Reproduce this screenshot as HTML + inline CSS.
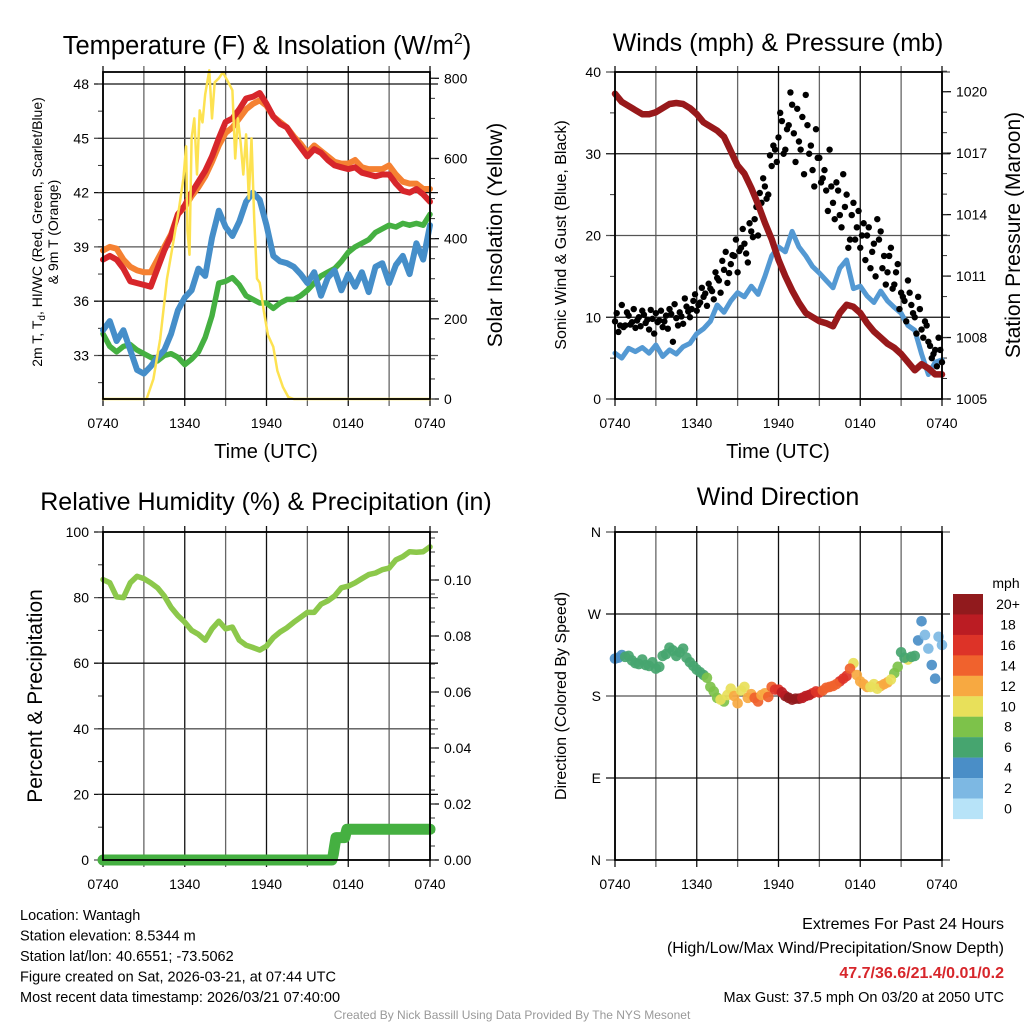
<!DOCTYPE html>
<html><head><meta charset="utf-8"><style>
html,body{margin:0;padding:0;background:#fff;}
svg{display:block;font-family:"Liberation Sans",Arial,sans-serif;}
</style></head><body>
<svg id="fig" width="1024" height="1024" viewBox="0 0 1024 1024" xmlns="http://www.w3.org/2000/svg">
<g id="layer"></g>
</svg>
<script>
// ---------- DATA ----------
const tempRed=[38.3,38.5,38.3,37.8,37.1,37.0,36.9,36.8,37.8,38.8,39.6,40.8,41.3,42.0,42.6,43.2,44.0,45.0,45.9,46.1,46.6,47.2,47.3,47.5,46.9,46.2,45.8,45.6,45.0,44.5,44.0,44.4,44.2,43.8,43.5,43.4,43.3,43.4,43.1,43.0,42.9,43.0,43.0,42.5,42.1,42.0,42.2,41.9,41.5];
const temp9m=[38.8,39.0,38.9,38.3,37.9,37.7,37.6,37.6,38.3,39.0,39.7,40.8,41.2,41.8,42.3,42.9,43.7,44.6,45.3,45.6,46.1,46.6,46.9,47.1,46.8,46.2,45.9,45.6,45.1,44.7,44.2,44.6,44.3,44.0,43.7,43.6,43.6,43.8,43.4,43.3,43.3,43.3,43.5,43.0,42.6,42.5,42.5,42.2,42.2];
const dewGreen=[34.2,33.5,33.2,33.5,33.6,33.3,33.1,32.9,32.7,33.0,33.1,32.9,32.5,32.8,33.2,34.0,35.2,37.0,37.1,37.3,36.9,36.3,36.1,35.9,35.9,35.6,35.9,36.1,36.1,36.3,36.6,37.0,37.4,37.6,37.8,38.2,38.7,39.0,39.2,39.4,39.8,40.0,40.2,40.1,40.3,40.2,40.3,40.2,40.8];
const chillBlue=[34.4,34.9,33.8,34.4,33.3,32.2,32.0,32.4,32.9,33.3,34.2,35.5,36.2,36.6,37.8,37.4,39.5,41.0,40.1,39.6,40.4,41.5,42.0,41.6,40.2,38.5,38.2,38.1,37.9,37.5,37.0,37.6,36.3,37.3,37.7,36.6,37.5,36.8,37.6,36.5,37.9,38.1,37.0,38.0,38.5,37.5,39.2,38.3,40.2];
const solarHours=[0,3.2,3.7,4.2,4.7,5.2,5.6,5.9,6.1,6.2,6.35,6.5,6.7,6.9,7.1,7.3,7.5,7.8,8.0,8.2,8.5,8.8,9.2,9.5,9.7,9.9,10.1,10.3,10.5,10.7,10.9,11.1,11.3,11.5,11.8,12.1,12.5,12.8,13.2,13.6,14,24];
const solarVals=[0,0,50,150,300,400,480,550,630,420,360,650,700,560,720,690,760,820,700,790,800,815,790,770,600,700,640,560,660,500,650,450,300,290,220,160,130,70,30,5,0,0];
const windSpd=[5.6,5.0,6.2,5.8,6.3,5.6,6.6,5.2,6.0,5.5,6.4,6.8,8.0,8.6,9.5,11.5,10.6,12.0,13.0,12.5,13.8,12.8,15.0,17.5,18.6,18.0,20.5,18.6,17.5,16.2,15.4,14.5,13.6,16.0,17.0,13.5,13.8,12.6,11.8,13.2,12.0,11.2,10.5,9.0,8.4,5.5,3.0,4.5,4.8];
const gustA=[9.5,8.2,11.5,9.0,10.2,9.4,8.7,10.0,10.8,9.3,8.5,9.8,10.5,9.6,8.8,10.2,11.0,7.0,9.9,10.6,9.2,11.3,10.0,12.0,10.8,11.8,12.5,11.4,13.5,12.2,14.8,13.0,15.8,14.2,16.5,17.5,15.5,18.5,19.0,16.7,20.5,22.0,20.0,24.0,26.0,25.0,28.5,30.5,32.0,34.0,30.5,33.5,36.0,29.0,31.5,34.5,37.2,30.0,28.0,33.0,29.5,27.0,25.5,30.5,24.0,26.5,22.5,27.5,25.0,19.5,24.0,21.0,18.5,21.5,20.0,16.0,19.0,22.0,20.5,17.5,15.5,18.5,14.0,16.5,13.0,12.0,14.5,11.5,10.0,12.5,8.5,9.5,7.0,5.0,6.0,7.5,4.5];
const gustB=[10.5,9.0,8.8,10.6,9.1,11.0,9.6,8.9,10.3,9.7,10.9,8.0,9.4,10.8,9.5,8.6,10.4,11.6,9.0,10.1,12.3,10.7,11.0,12.8,11.5,13.6,12.9,14.1,13.2,15.5,14.5,16.9,18.0,15.4,17.6,19.5,18.1,20.8,17.8,21.5,19.8,23.5,25.2,27.0,24.5,29.8,31.0,29.0,35.0,30.0,33.0,37.5,32.5,35.5,30.5,27.5,33.5,31.0,26.0,29.5,26.5,28.0,23.0,26.0,22.0,25.5,21.0,23.5,18.5,22.5,19.5,23.0,20.0,17.0,21.0,18.0,15.0,19.5,16.0,14.0,17.5,13.5,15.5,11.0,12.5,9.5,13.0,10.5,8.0,11.0,7.5,9.0,6.5,5.5,4.0,6.0];
const pressure=[1019.9,1019.5,1019.3,1019.1,1018.9,1018.9,1019.0,1019.2,1019.4,1019.45,1019.4,1019.2,1018.9,1018.5,1018.3,1018.1,1017.8,1017.1,1016.4,1016.0,1015.3,1014.5,1013.6,1012.8,1011.8,1011.0,1010.3,1009.7,1009.2,1009.0,1008.8,1008.7,1008.55,1009.2,1009.6,1009.5,1009.2,1008.7,1008.3,1008.0,1007.7,1007.5,1007.2,1006.8,1006.4,1006.7,1006.5,1006.2,1006.2];
const rh=[85.5,84.5,80.2,80.0,84.5,86.5,85.8,84.5,83.0,80.5,77.0,74.5,72.5,70.0,68.8,67.0,70.5,72.8,70.5,71.0,67.0,65.5,64.8,64.0,65.2,67.8,69.5,70.8,72.5,74.0,75.5,75.5,78.0,79.0,80.5,83.0,83.5,84.5,85.8,87.0,87.5,88.5,89.0,91.5,92.5,94.0,93.8,94.0,95.5];
const precipHours=[0,16.8,16.9,17.0,17.1,17.75,17.9,24];
const precipVals=[0,0,0.002,0.005,0.008,0.008,0.011,0.011];
const windDir=[221,225,224,216,220,213,210,224,233,224,232,217,209,203,190,178,174,188,172,190,182,174,183,190,187,180,176,177,180,183,184,189,191,196,202,216,196,190,193,191,195,205,228,220,224,262,232,199,236];
const dirSpd=[4.5,4.5,7,7,7,7,7,7,7,7,7,7,7,7,9,9,8.5,10.5,12.5,11,13,14.5,13,15,17,21,21,20.5,19,17,16.5,15,14.5,17,17,11,12.5,12,11,12.5,12,9,7,10,7.5,4.5,3,4.5,3];
const windDirB=[222,223,219,215,214,217,212,226,230,228,222,213,206,200,185,176,181,180,186,178,178,181,179,187,184,178,177,178,181,185,186,190,193,199,210,203,193,190,188,193,198,212,222,223,241,247,214,245];
const dirSpdB=[4.5,7,7,7,7,7,7,7,7,7,7,7,7,8.5,9,10.5,10,12.5,10.5,12,14,13.5,14,16,19,21,21,19.5,18,17,15.5,15,15,17,14,12,12.5,11,10.5,12,10,8,7,7,4.5,3,4.5,3];
const tempTicks=[33,36,39,42,45,48];
const solarTicks=[0,200,400,600,800];
const windTicks=[0,10,20,30,40];
const presTicks=[1005,1008,1011,1014,1017,1020];
const rhTicks=[0,20,40,60,80,100];
const prTicks=[0,0.02,0.04,0.06,0.08,0.10];
const dirTicks=[0,90,180,270,360];
const dirLabels=['N','E','S','W','N'];
const timeLabels=['0740','1340','1940','0140','0740'];
const cbLabels=['20+','18','16','14','12','10','8','6','4','2','0'];
const cbColors=['#911a1d','#bb1c23','#dd3328','#f0622d','#f7a941','#e8e05a','#7dc24a','#46a56f','#4a8ec7','#7db8e3','#b7e3f8'];

// ---------- HELPERS ----------
const NS='http://www.w3.org/2000/svg';
const L=document.getElementById('layer');
function mk(tag,attrs,parent){const e=document.createElementNS(NS,tag);for(const k in attrs)e.setAttribute(k,attrs[k]);(parent||L).appendChild(e);return e;}
function txt(x,y,s,size,anchor,extra){const e=mk('text',Object.assign({x:x,y:y,'font-size':size,'text-anchor':anchor||'middle',fill:'#000'},extra||{}));e.textContent=s;return e;}
function lin(a,b){return v=>a[1]+(v-a[0])*(b[1]-a[1])/(b[0]-a[0]);}

function panel(P,name){
  const g=mk('g',{});
  
  
  P.g=g;P.x=lin([0,P.x0],[24,P.x1]);
  for(let h=0;h<=24;h+=3){
    const gl=mk('line',{x1:P.x(h),x2:P.x(h),y1:P.y0-6,y2:P.y1+7,stroke:(h%6===0)?'#111':'#666','stroke-width':1.3},g);
    
    
  }
  for(let i=0;i<timeLabels.length;i++){
    const t=txt(P.x(i*6),P.y1+29,timeLabels[i],14,'middle');g.appendChild(t);
    
    
  }
  return g;
}
function leftAxis(P,ticks,labels,yf,minorStep){
  ticks.forEach((v,i)=>{
    const y=yf(v);
    const gl=mk('line',{x1:P.x0-9,x2:P.x1+8,y1:y,y2:y,stroke:i%2?'#111':'#555','stroke-width':1.3},P.g);
    
    
    const t=txt(P.x0-14,y+5,labels[i],14,'end');P.g.appendChild(t);
    
    
  });
  if(minorStep){
    for(let v=ticks[0]-minorStep*4;v<=ticks[ticks.length-1]+minorStep;v+=minorStep){
      const y=yf(v);if(y<P.y0-1||y>P.y1+1)continue;
      mk('line',{x1:P.x0-5,x2:P.x0,y1:y,y2:y,stroke:'#333','stroke-width':1},P.g);
    }
  }
}
function rightAxis(P,ticks,labels,yf,minorStep){
  ticks.forEach((v,i)=>{
    const y=yf(v);
    mk('line',{x1:P.x1,x2:P.x1+9,y1:y,y2:y,stroke:'#111','stroke-width':1.3},P.g);
    const t=txt(P.x1+14,y+5,labels[i],14,'start');P.g.appendChild(t);
    
    
  });
  for(let v=ticks[0];v<=ticks[ticks.length-1]+minorStep*6;v+=minorStep){
    const y=yf(v);if(y<P.y0-1||y>P.y1+1)continue;
    mk('line',{x1:P.x1,x2:P.x1+5,y1:y,y2:y,stroke:'#333','stroke-width':1},P.g);
  }
}
function frame(P){
  const r=mk('rect',{x:P.x0,y:P.y0,width:P.x1-P.x0,height:P.y1-P.y0,fill:'none',stroke:'#000','stroke-width':1.8},P.g);
  
  
}
function series(P,xs,vals,yf,color,w,name){
  const pts=vals.map((v,i)=>P.x(xs(i)).toFixed(1)+','+yf(v).toFixed(1)).join(' ');
  const p=mk('polyline',{points:pts,fill:'none',stroke:color,'stroke-width':w,'stroke-linejoin':'round','stroke-linecap':'round'},P.g);
  
  
  return p;
}
const half=i=>i/2;

// ---------- PANEL 1 ----------
const P1={x0:103,x1:430,y0:72,y1:399};
panel(P1,'temperature-panel');
const yT=lin([48,84],[33,355.5]);
const yS=lin([0,399],[800,78.3]);
leftAxis(P1,tempTicks,tempTicks.map(String),yT,1.5);
rightAxis(P1,solarTicks,solarTicks.map(String),yS,50);
series(P1,half,temp9m,yT,'#f58132',6,'temp-9m-line');
series(P1,half,tempRed,yT,'#d7262b',6,'temp-2m-line');
series(P1,half,dewGreen,yT,'#45b041',5.5,'dewpoint-line');
series(P1,half,chillBlue,yT,'#458ec9',6,'windchill-line');
series(P1,i=>solarHours[i],solarVals,yS,'#fde251',2.5,'solar-line');
frame(P1);

// ---------- PANEL 2 ----------
const P2={x0:615,x1:942,y0:72,y1:399};
panel(P2,'winds-panel');
const yW=lin([0,399],[40,72]);
const yP=lin([1005,399],[1020,91.7]);
leftAxis(P2,windTicks,windTicks.map(String),yW,5);
rightAxis(P2,presTicks,presTicks.map(String),yP,1);
series(P2,half,windSpd,yW,'#5499d3',5,'wind-speed-line');
[[gustA,0],[gustB,0.125]].forEach(([arr,off])=>{
  arr.forEach((v,i)=>{
    const c=mk('circle',{cx:P2.x(i*0.25+off),cy:yW(v),r:3.2,fill:'#000'},P2.g);
    
    
  });
});
series(P2,half,pressure,yP,'#98191b',6.5,'pressure-line');
frame(P2);

// ---------- PANEL 3 ----------
const P3={x0:103,x1:430,y0:532,y1:860};
panel(P3,'humidity-panel');
const yR=lin([0,860],[100,532]);
const yPr=lin([0,860],[0.1,580]);
leftAxis(P3,rhTicks,rhTicks.map(String),yR,10);
rightAxis(P3,prTicks,prTicks.map(v=>v.toFixed(2)),yPr,0.005);
series(P3,half,rh,yR,'#8cc84b',5.5,'rh-line');
series(P3,i=>precipHours[i],precipVals,yPr,'#45b041',11,'precip-line');
frame(P3);

// ---------- PANEL 4 ----------
const P4={x0:615,x1:942,y0:532,y1:860};
panel(P4,'wind-direction-panel');
const yD=lin([0,860],[360,532]);
leftAxis(P4,dirTicks,dirLabels,yD,0);
function spdColor(s){let b=Math.floor(s/2);if(b>10)b=10;return cbColors[10-b];}
windDir.forEach((d,i)=>{
  const c=mk('circle',{cx:P4.x(i/2),cy:yD(d),r:5.3,fill:spdColor(dirSpd[i]),'fill-opacity':0.92},P4.g);
  
  
});
windDirB.forEach((d,i)=>{
  const c=mk('circle',{cx:P4.x(i/2+0.25),cy:yD(d),r:5.3,fill:spdColor(dirSpdB[i]),'fill-opacity':0.92},P4.g);
  
  
});
frame(P4);
// colorbar
const cb=mk('g',{});


const cbt=txt(1006,588,'mph',14,'middle');cb.appendChild(cbt);


cbColors.forEach((c,i)=>{
  const r=mk('rect',{x:953,y:594+i*20.45,width:30,height:20.6,fill:c},cb);
  
  
  const t=txt(1008,609+i*20.45,cbLabels[i],14,'middle');cb.appendChild(t);
  
  
});
</script>
<script>
(function(){
const L2=document.getElementById('layer');
function T(x,y,s,size,anchor,name,extra){const e=document.createElementNS('http://www.w3.org/2000/svg','text');e.setAttribute('x',x);e.setAttribute('y',y);e.setAttribute('font-size',size);e.setAttribute('text-anchor',anchor);e.setAttribute('fill','#000');if(extra)for(const k in extra)e.setAttribute(k,extra[k]);e.innerHTML=s;


L2.appendChild(e);return e;}
T(267,54,'Temperature (F) &amp; Insolation (W/m<tspan dy="-10" font-size="16">2</tspan><tspan dy="10">)</tspan>',25.5,'middle','chart-title-temperature');
T(778,51,'Winds (mph) &amp; Pressure (mb)',25,'middle','chart-title-winds');
T(266,510,'Relative Humidity (%) &amp; Precipitation (in)',25,'middle','chart-title-humidity');
T(778,505,'Wind Direction',25,'middle','chart-title-direction');
T(266,458,'Time (UTC)',20,'middle','x-axis-title-temperature');
T(778,458,'Time (UTC)',20,'middle','x-axis-title-winds');
T(0,0,'2m T, T<tspan dy="3" font-size="10">d</tspan><tspan dy="-3">, HI/WC (Red, Green, Scarlet/Blue)</tspan>',14,'middle','y-axis-title-temperature',{transform:'translate(42,232) rotate(-90)'});
T(0,0,'&amp; 9m T (Orange)',14,'middle','y-axis-title-temperature-2',{transform:'translate(58,232) rotate(-90)'});
T(0,0,'Solar Insolation (Yellow)',21,'middle','y-axis-title-solar',{transform:'translate(502,235) rotate(-90)'});
T(0,0,'Sonic Wind &amp; Gust (Blue, Black)',16,'middle','y-axis-title-wind',{transform:'translate(566,235) rotate(-90)'});
T(0,0,'Station Pressure (Maroon)',21,'middle','y-axis-title-pressure',{transform:'translate(1020,235) rotate(-90)'});
T(0,0,'Percent &amp; Precipitation',21,'middle','y-axis-title-humidity',{transform:'translate(42,696) rotate(-90)'});
T(0,0,'Direction (Colored By Speed)',16,'middle','y-axis-title-direction',{transform:'translate(566,696) rotate(-90)'});
const info=['Location: Wantagh','Station elevation: 8.5344 m','Station lat/lon: 40.6551; -73.5062','Figure created on Sat, 2026-03-21, at 07:44 UTC','Most recent data timestamp: 2026/03/21 07:40:00'];
info.forEach((s,i)=>T(20,920+i*20.5,s,14.5,'start','station-info-line'));
T(1004,929,'Extremes For Past 24 Hours',16,'end','extremes-title');
T(1004,953,'(High/Low/Max Wind/Precipitation/Snow Depth)',16,'end','extremes-subtitle');
T(1004,978,'47.7/36.6/21.4/0.01/0.2',16,'end','extremes-values',{fill:'#d7262b','font-weight':'bold'});
T(1004,1002,'Max Gust: 37.5 mph On 03/20 at 2050 UTC',14.5,'end','max-gust-text');
T(512,1019,'Created By Nick Bassill Using Data Provided By The NYS Mesonet',12,'middle','credit-footer',{fill:'#999'});
})();
</script>
</body></html>
